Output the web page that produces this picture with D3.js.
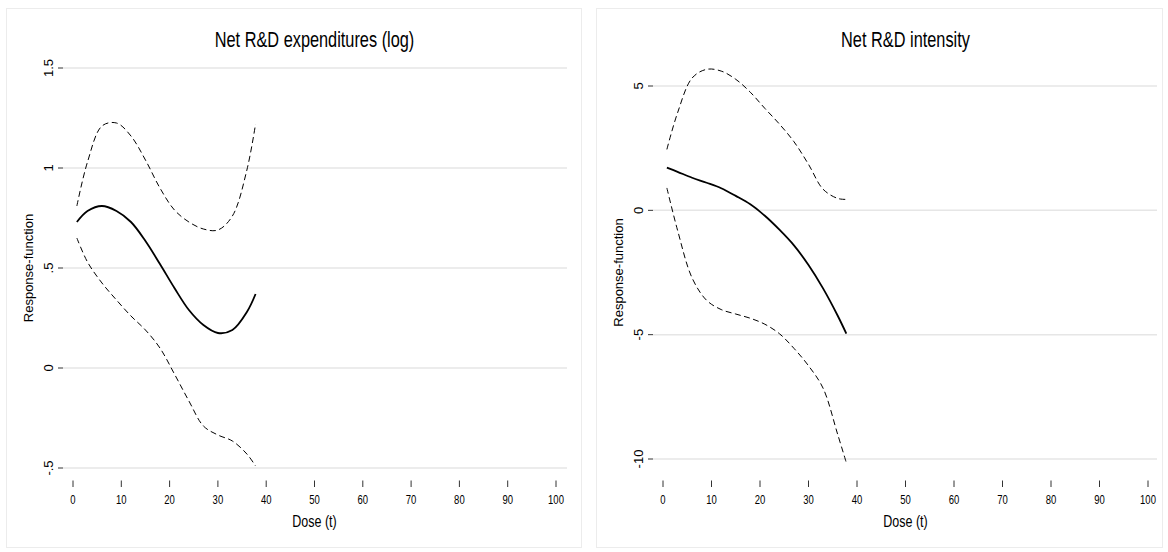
<!DOCTYPE html>
<html><head><meta charset="utf-8">
<script src="https://cdn.jsdelivr.net/npm/d3@7"></script>
<style>html,body{margin:0;padding:0;background:#fff;}svg{display:block;}</style>
</head><body>
<svg id="chart" width="1168" height="552"></svg>
<script>
// ---------- data ----------
const doses = [0.8, 3, 6, 9, 12, 15, 18, 21, 24, 27, 30, 33, 36, 37.8];

const leftTitle = "Net R&D expenditures (log)";
const leftEstimate = [0.73, 0.785, 0.81, 0.785, 0.73, 0.635, 0.52, 0.40, 0.29, 0.215, 0.175, 0.19, 0.28, 0.37];
const leftUpper    = [0.81, 1.03, 1.21, 1.225, 1.16, 1.04, 0.90, 0.79, 0.73, 0.695, 0.69, 0.76, 0.99, 1.22];
const leftLower    = [0.65, 0.53, 0.425, 0.34, 0.26, 0.19, 0.10, -0.03, -0.165, -0.29, -0.335, -0.365, -0.43, -0.49];
const leftYTicks = [-0.5, 0, 0.5, 1, 1.5];
const leftYTickLabels = ["-.5", "0", ".5", "1", "1.5"];

const rightTitle = "Net R&D intensity";
const rightEstimate = [1.72, 1.55, 1.31, 1.11, 0.89, 0.58, 0.24, -0.22, -0.78, -1.41, -2.2, -3.14, -4.23, -4.96];
const rightUpper    = [2.45, 3.92, 5.32, 5.67, 5.6, 5.27, 4.75, 4.1, 3.47, 2.76, 1.85, 0.85, 0.48, 0.44];
const rightLower    = [0.9, -0.8, -2.72, -3.62, -3.99, -4.17, -4.34, -4.58, -4.96, -5.55, -6.25, -7.15, -9.0, -10.15];
const rightYTicks = [-10, -5, 0, 5];
const rightYTickLabels = ["-10", "-5", "0", "5"];

const xTicks = [0, 10, 20, 30, 40, 50, 60, 70, 80, 90, 100];
const xTitle = "Dose (t)";
const yTitle = "Response-function";

// ---------- layout ----------
const FONT = "'Liberation Sans', Arial, sans-serif";
const SX = 0.76; // horizontal squeeze of the original horizontal text
const svg = d3.select("#chart");

const panels = [
  {frame:[6, 8, 581, 547], plotX:[63, 567], xRange:[73, 556], yDomain:[-0.5, 1.5], yRange:[468, 68],
   title:leftTitle, est:leftEstimate, up:leftUpper, lo:leftLower, yTicks:leftYTicks, yLabels:leftYTickLabels},
  {frame:[596, 8, 1162, 547], plotX:[653, 1157], xRange:[663, 1148], yDomain:[-10, 5], yRange:[459, 86],
   title:rightTitle, est:rightEstimate, up:rightUpper, lo:rightLower, yTicks:rightYTicks, yLabels:rightYTickLabels}
];

function addText(g, x, y, txt, size, rotate) {
  return g.append("text")
    .attr("transform", rotate ? `translate(${x},${y}) rotate(-90)` : `translate(${x},${y}) scale(${SX},1)`)
    .attr("text-anchor", "middle")
    .attr("font-family", FONT)
    .attr("font-size", size)
    .attr("fill", "#000")
    .text(txt);
}

panels.forEach(p => {
  const g = svg.append("g");
  const [fx0, fy0, fx1, fy1] = p.frame;
  g.append("rect").attr("x", fx0 + 0.5).attr("y", fy0 + 0.5)
    .attr("width", fx1 - fx0).attr("height", fy1 - fy0)
    .attr("fill", "#fff").attr("stroke", "#ececec").attr("stroke-width", 1);

  const x = d3.scaleLinear().domain([0, 100]).range(p.xRange);
  const y = d3.scaleLinear().domain(p.yDomain).range(p.yRange);

  // gridlines
  g.selectAll(".grid").data(p.yTicks).enter().append("line")
    .attr("x1", p.plotX[0]).attr("x2", p.plotX[1])
    .attr("y1", d => y(d)).attr("y2", d => y(d))
    .attr("stroke", "#e6e6e6").attr("stroke-width", 1.5);

  // y axis ticks
  g.selectAll(".ytick").data(p.yTicks).enter().append("line")
    .attr("x1", p.plotX[0] - 5).attr("x2", p.plotX[0])
    .attr("y1", d => y(d)).attr("y2", d => y(d))
    .attr("stroke", "#333").attr("stroke-width", 1);
  p.yTicks.forEach((d, i) => addText(g, p.plotX[0] - 10, y(d), p.yLabels[i], 13, true));

  // x axis ticks
  g.selectAll(".xtick").data(xTicks).enter().append("line")
    .attr("x1", d => x(d)).attr("x2", d => x(d))
    .attr("y1", 480.5).attr("y2", 487)
    .attr("stroke", "#333").attr("stroke-width", 1);
  xTicks.forEach(d => addText(g, x(d), 504, String(d), 12.5, false));

  // titles
  const xm = (p.xRange[0] + p.xRange[1]) / 2;
  addText(g, xm, 527, xTitle, 16.5, false);
  addText(g, p.plotX[0] - 30, (p.yRange[0] + p.yRange[1]) / 2, yTitle, 13, true);
  addText(g, xm, 47, p.title, 21.5, false);

  const line = d3.line().x((d, i) => x(doses[i])).y(d => y(d)).curve(d3.curveCatmullRom.alpha(0.5));
  [p.up, p.lo].forEach(s => g.append("path").attr("d", line(s))
    .attr("fill", "none").attr("stroke", "#000").attr("stroke-width", 1).attr("stroke-dasharray", "6,3.5"));
  g.append("path").attr("d", line(p.est))
    .attr("fill", "none").attr("stroke", "#000").attr("stroke-width", 1.8);
});
</script>
</body></html>
